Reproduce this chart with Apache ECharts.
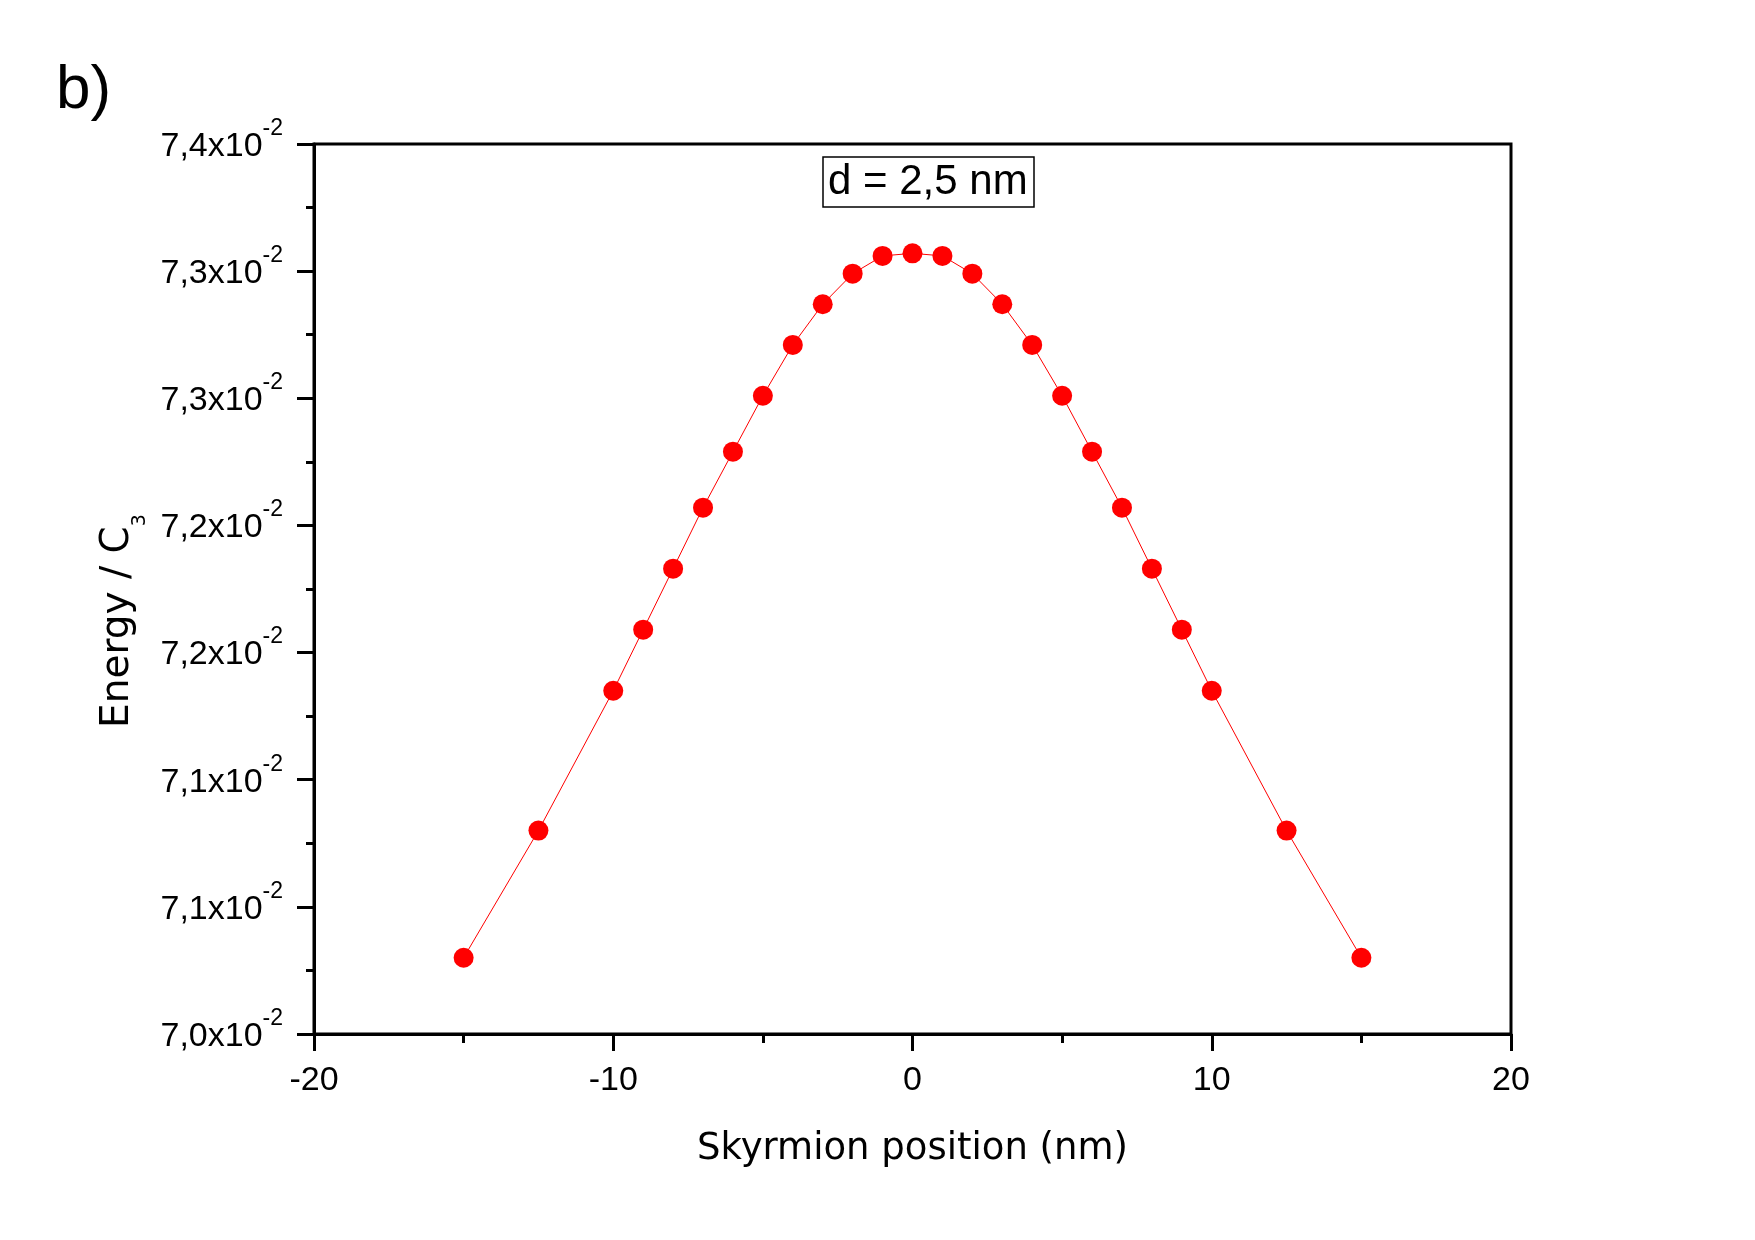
<!DOCTYPE html>
<html><head><meta charset="utf-8">
<script src="https://cdn.jsdelivr.net/npm/echarts@6/dist/echarts.min.js"></script>
<style>html,body{margin:0;padding:0;background:#fff}#c{width:1755px;height:1240px}</style>
</head><body><div id="c"></div>
<script>
const positions = [-15, -12.5, -10, -9, -8, -7, -6, -5, -4, -3, -2, -1, 0, 1, 2, 3, 4, 5, 6, 7, 8, 9, 10, 12.5, 15];
const energy = [0.07030, 0.07080, 0.07135, 0.07159, 0.07183, 0.07207, 0.07229, 0.07251, 0.07271, 0.07287, 0.07299, 0.07306, 0.07307,
                0.07306, 0.07299, 0.07287, 0.07271, 0.07251, 0.07229, 0.07207, 0.07183, 0.07159, 0.07135, 0.07080, 0.07030];
const yTickLabels = ['7,0', '7,1', '7,1', '7,2', '7,2', '7,3', '7,3', '7,4'];
const xTickLabels = {'-20': '-20', '-10': '-10', '0': '0', '10': '10', '20': '20'};
const annotation = 'd = 2,5 nm';
const panelLabel = 'b)';

const seriesData = positions.map((p, i) => [p, energy[i]]);
const FONT = 'Liberation Sans, Arial, sans-serif';
const NAMEFONT = 'DejaVu Sans, sans-serif';

const chart = echarts.init(document.getElementById('c'), null, {renderer: 'canvas'});
chart.setOption({
  backgroundColor: '#ffffff',
  animation: false,
  title: [
    {text: panelLabel, left: 56, top: 60, padding: 0,
     textStyle: {fontFamily: FONT, fontSize: 62, fontWeight: 'normal', color: '#000'}},
    {text: annotation, left: 823, top: 157, padding: [4, 7, 4, 5],
     borderColor: '#000', borderWidth: 1.5,
     textStyle: {fontFamily: FONT, fontSize: 42, fontWeight: 'normal', color: '#000', lineHeight: 42}}
  ],
  grid: {left: 314, right: 244, top: 144, bottom: 206, show: true, borderColor: '#000', borderWidth: 3,
         backgroundColor: 'transparent', containLabel: false, outerBoundsMode: 'none'},
  xAxis: {
    type: 'value', min: -20, max: 20, interval: 10,
    name: 'Skyrmion position (nm)', nameLocation: 'middle', nameGap: 97,
    nameTextStyle: {fontFamily: NAMEFONT, fontSize: 37, color: '#000'},
    axisLine: {show: true, onZero: false, lineStyle: {color: '#000', width: 3}},
    axisTick: {show: true, inside: false, length: 17, lineStyle: {color: '#000', width: 3}},
    minorTick: {show: true, splitNumber: 2, length: 9, lineStyle: {color: '#000', width: 3}},
    splitLine: {show: false}, minorSplitLine: {show: false},
    axisLabel: {margin: 30, fontFamily: FONT, fontSize: 34, color: '#000',
                formatter: v => xTickLabels[String(v)] ?? String(v)}
  },
  yAxis: {
    type: 'value', min: 0.0700, max: 0.0735, interval: 0.0005,
    name: 'Energy / C{sub|3}', nameLocation: 'middle', nameGap: 176, nameRotate: 90,
    nameTextStyle: {fontFamily: NAMEFONT, fontSize: 39, color: '#000', padding: [0, 64, 0, 0],
      rich: {
        sub: {fontFamily: NAMEFONT, fontSize: 19, lineHeight: 19, padding: [32, 0, 0, 0], verticalAlign: 'top', color: '#000'}
      }},
    axisLine: {show: true, onZero: false, lineStyle: {color: '#000', width: 3}},
    axisTick: {show: true, inside: false, length: 17, lineStyle: {color: '#000', width: 3}},
    minorTick: {show: true, splitNumber: 2, length: 8, lineStyle: {color: '#000', width: 3}},
    splitLine: {show: false}, minorSplitLine: {show: false},
    axisLabel: {
      margin: 31, color: '#000', padding: [5, 0, 0, 0],
      formatter: v => {
        const idx = Math.round((v - 0.0700) / 0.0005);
        return '{m|' + yTickLabels[idx] + 'x10}{s|-2}';
      },
      rich: {
        m: {fontFamily: FONT, fontSize: 34, lineHeight: 34, verticalAlign: 'middle', color: '#000'},
        s: {fontFamily: FONT, fontSize: 23, lineHeight: 23, padding: [0, 0, 36, 0], verticalAlign: 'middle', color: '#000'}
      }
    }
  },
  series: [{
    type: 'line', data: seriesData, symbol: 'circle', symbolSize: 20,
    itemStyle: {color: '#ff0000'},
    lineStyle: {color: '#ff0000', width: 1},
    clip: false
  }]
});
</script></body></html>
